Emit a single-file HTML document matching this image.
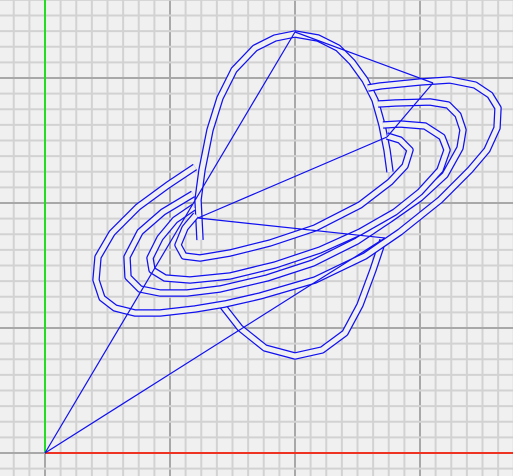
<!DOCTYPE html>
<html><head><meta charset="utf-8"><style>
html,body{margin:0;padding:0;background:#f0f0f0;}
svg{display:block;}
</style></head><body>
<svg id="chart" width="513" height="476" viewBox="0 0 513 476" xmlns="http://www.w3.org/2000/svg">
<rect x="0" y="0" width="513" height="476" fill="#f0f0f0"/>
<g id="grid"></g>
<g id="axes"></g>
<g id="shapes"></g>
</svg>
<script>
// data units: u to the right of origin, v upward from origin (1 unit = 1 px)
const ringOuter = [[150,286],[123,268],[93,246],[67,220],[53,196],[51,173],[57,155],[70,145],[90,140],[115,140],[150,144],[180,149],[215,157],[270,173],[320,197],[355,221],[395,253],[425,283],[442,303],[452,325],[453,345],[445,358],[430,368],[405,373],[375,371],[335,367],[323,365]];
const ringSecond = [[148,259],[118,241],[95,221],[82,196],[83,176],[95,164],[115,160],[142,160],[175,164],[222,175],[268,190],[312,212],[345,234],[375,255],[400,278],[415,305],[418,323],[413,338],[403,348],[385,351],[350,350],[333,349]];
const ringThird = [[149,246],[130,233],[115,215],[105,195],[107,183],[120,175],[145,173],[185,177],[230,188],[275,203],[315,221],[350,241],[375,261],[395,283],[402,303],[397,316],[380,327],[355,329],[338,328]];
const ringInner = [[151,238],[140,225],[133,208],[139,197],[155,195],[185,200],[225,210],[270,225],[315,248],[345,271],[360,287],[365,303],[355,313],[342,317]];
const planetTop = [[155,213],[153,253],[157,283],[165,323],[175,355],[189,383],[210,405],[230,415],[250,419],[273,415],[293,405],[307,391],[320,373],[330,353],[337,328],[342,303],[345,281]];
const planetBottom = [[177,148],[195,125],[220,105],[250,97],[277,103],[300,120],[315,148],[328,183],[338,213]];
const guideLines = [[[0,0],[250,421]],[[0,0],[340,215]],[[250,421],[388,370]],[[388,370],[342,316]],[[342,316],[153,235]],[[153,235],[340,215]]];

const OX = 45, OY = 453;
function xs(u){ return OX + u; }
function ys(v){ return OY - v; }

const NS = "http://www.w3.org/2000/svg";
const grid = document.getElementById('grid');
const axes = document.getElementById('axes');
const shapes = document.getElementById('shapes');

const step = 15.625;
for (let i = -3; i <= 30; i++) {
  const x = OX + i * step;
  if (x < -2 || x > 515) continue;
  const l = document.createElementNS(NS, 'line');
  
  
  l.setAttribute('x1', x); l.setAttribute('x2', x);
  l.setAttribute('y1', 0); l.setAttribute('y2', 476);
  l.setAttribute('stroke', i % 8 === 0 ? '#a8a8a8' : '#d2d2d2');
  l.setAttribute('stroke-width', 2);
  grid.appendChild(l);
}
for (let j = -2; j <= 30; j++) {
  const y = OY - j * step;
  if (y < -2 || y > 478) continue;
  const l = document.createElementNS(NS, 'line');
  
  
  l.setAttribute('x1', 0); l.setAttribute('x2', 513);
  l.setAttribute('y1', y); l.setAttribute('y2', y);
  l.setAttribute('stroke', j % 8 === 0 ? '#a8a8a8' : '#d2d2d2');
  l.setAttribute('stroke-width', 2);
  grid.appendChild(l);
}
const ya = document.createElementNS(NS, 'line');


ya.setAttribute('x1', OX); ya.setAttribute('x2', OX); ya.setAttribute('y1', 0); ya.setAttribute('y2', OY);
ya.setAttribute('stroke', '#22dd22'); ya.setAttribute('stroke-width', 2);
axes.appendChild(ya);
const xa = document.createElementNS(NS, 'line');


xa.setAttribute('x1', OX); xa.setAttribute('x2', 513); xa.setAttribute('y1', OY); xa.setAttribute('y2', OY);
xa.setAttribute('stroke', '#ee3322'); xa.setAttribute('stroke-width', 2);
axes.appendChild(xa);

function pts(arr){ return arr.map(p => xs(p[0]) + ',' + ys(p[1])).join(' '); }

function band(arr, name){
  const g = document.createElementNS(NS, 'g');
  
  
  const a = document.createElementNS(NS, 'polyline');
  
  
  a.setAttribute('points', pts(arr));
  a.setAttribute('fill', 'none'); a.setAttribute('stroke', '#1010f0');
  a.setAttribute('stroke-width', 7.5); a.setAttribute('stroke-linejoin', 'round');
  g.appendChild(a);
  const b = document.createElementNS(NS, 'polyline');
  
  
  b.setAttribute('points', pts(arr));
  b.setAttribute('fill', 'none'); b.setAttribute('stroke', '#f0f0f0');
  b.setAttribute('stroke-width', 5); b.setAttribute('stroke-linejoin', 'round');
  g.appendChild(b);
  shapes.appendChild(g);
}
band(planetTop, 'planet-upper-outline');
band(planetBottom, 'planet-lower-outline');
band(ringOuter, 'ring-outer');
band(ringSecond, 'ring-second');
band(ringThird, 'ring-third');
band(ringInner, 'ring-inner');

guideLines.forEach(seg => {
  const l = document.createElementNS(NS, 'line');
  
  
  l.setAttribute('x1', xs(seg[0][0])); l.setAttribute('y1', ys(seg[0][1]));
  l.setAttribute('x2', xs(seg[1][0])); l.setAttribute('y2', ys(seg[1][1]));
  l.setAttribute('stroke', '#1010f0'); l.setAttribute('stroke-width', 1.2);
  shapes.appendChild(l);
});
</script>
</body></html>
